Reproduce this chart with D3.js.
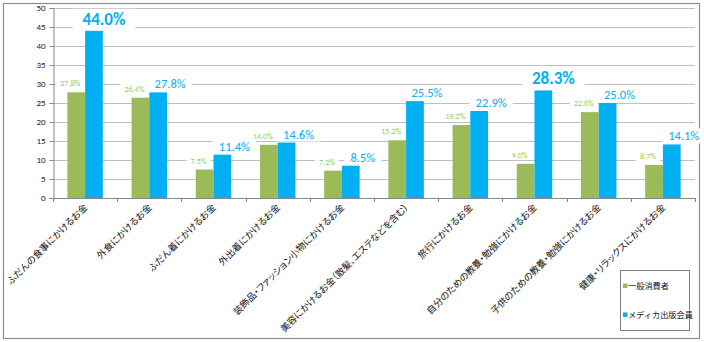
<!DOCTYPE html>
<html>
<head>
<meta charset="utf-8">
<script src="https://cdn.jsdelivr.net/npm/d3@7"></script>
<style>
  html, body { margin: 0; padding: 0; background: #fff; }
  svg { display: block; }
</style>
</head>
<body>
<svg id="chart" width="704" height="342"></svg>
<script>
// Spending categories (x axis)
const categories = [
  "ふだんの食事にかけるお金",
  "外食にかけるお金",
  "ふだん着にかけるお金",
  "外出着にかけるお金",
  "装飾品・ファッション小物にかけるお金",
  "美容にかけるお金（散髪、エステなどを含む）",
  "旅行にかけるお金",
  "自分のための教養・勉強にかけるお金",
  "子供のための教養・勉強にかけるお金",
  "健康・リラックスにかけるお金"
];
// Series names
const seriesNames = ["一般消費者", "メディカ出版会員"];
// Percentages per series
const generalValues = [27.8, 26.4, 7.5, 14.0, 7.2, 15.2, 19.2, 9.0, 22.6, 8.7];
const memberValues  = [44.0, 27.8, 11.4, 14.6, 8.5, 25.5, 22.9, 28.3, 25.0, 14.1];
// Member values shown with an emphasised label
const emphasised = [0, 7];
// Y axis ticks
const yTicks = [0, 5, 10, 15, 20, 25, 30, 35, 40, 45, 50];

const colors = ["#9bbb59", "#00b0f0"];
const labelColors = ["#92d050", "#00b0f0"];
const font = "'Noto Sans CJK JP', 'Noto Sans', sans-serif";
const numFont = "Calibri, 'Liberation Sans', 'Noto Sans', sans-serif";

const svg = d3.select("#chart");

// Outer frame
svg.append("rect")
  .attr("x", 3.5).attr("y", 3.5).attr("width", 696).attr("height", 335)
  .attr("fill", "#fff").attr("stroke", "#8c8c8c").attr("stroke-width", 1.2);

const plot = { left: 53, right: 695, top: 8, bottom: 198 };

const x = d3.scaleBand().domain(d3.range(categories.length))
  .range([plot.left, plot.right]).paddingInner(0).paddingOuter(0);
const inner = d3.scaleBand().domain([0, 1])
  .range([0, x.bandwidth()]).paddingInner(0).paddingOuter(0.81);
const y = d3.scaleLinear().domain([0, 50]).range([plot.bottom, plot.top]);

// Gridlines
svg.append("g").selectAll("line").data(yTicks.filter(d => d > 0)).join("line")
  .attr("x1", plot.left).attr("x2", plot.right)
  .attr("y1", d => Math.round(y(d)) + 0.5).attr("y2", d => Math.round(y(d)) + 0.5)
  .attr("stroke", "#bfbfbf").attr("stroke-width", 1);

// Bars
const series = [generalValues, memberValues];
const barG = svg.append("g");
series.forEach((vals, s) => {
  barG.selectAll(null).data(vals).join("rect")
    .attr("x", (d, i) => x(i) + inner(s))
    .attr("width", inner.bandwidth())
    .attr("y", d => y(d))
    .attr("height", d => y(0) - y(d))
    .attr("fill", colors[s]);
});

// Y axis
const yAxis = svg.append("g")
  .attr("transform", `translate(${plot.left + 0.5},0)`)
  .call(d3.axisLeft(y).tickValues(yTicks).tickSize(4).tickPadding(4).tickFormat(d3.format("d")));
yAxis.select(".domain").attr("stroke", "#868686");
yAxis.selectAll(".tick line").attr("stroke", "#868686");
yAxis.selectAll(".tick text").attr("font-family", numFont).attr("font-size", 9).attr("fill", "#222");

// X axis baseline with boundary ticks
const xAxisG = svg.append("g");
xAxisG.append("line")
  .attr("x1", plot.left).attr("x2", plot.right)
  .attr("y1", y(0) + 0.5).attr("y2", y(0) + 0.5).attr("stroke", "#868686");
xAxisG.selectAll(".bt").data(d3.range(categories.length + 1)).join("line")
  .attr("x1", i => Math.round(plot.left + i * x.step()) + 0.5)
  .attr("x2", i => Math.round(plot.left + i * x.step()) + 0.5)
  .attr("y1", y(0)).attr("y2", y(0) + 4).attr("stroke", "#868686");

// Rotated category labels
xAxisG.selectAll(".cat").data(categories).join("text")
  .attr("transform", (d, i) => `translate(${x(i) + x.bandwidth() / 2 + 3},${y(0) + 10}) rotate(-45)`)
  .attr("text-anchor", "end")
  .attr("font-family", font).attr("font-size", 9.4).attr("fill", "#111")
  .style("font-feature-settings", "'palt' 1")
  .text(d => d);

// Value labels with white backing that breaks the gridlines
const labG = svg.append("g");
function addLabel(cx, cy, text, size, weight, color, pad) {
  const g = labG.append("g");
  const t = g.append("text")
    .attr("x", cx).attr("y", cy)
    .attr("text-anchor", "middle")
    .attr("font-family", numFont).attr("font-size", size).attr("font-weight", weight)
    .attr("fill", color).text(text);
  const bb = t.node().getBBox();
  g.insert("rect", "text")
    .attr("x", bb.x - pad).attr("y", bb.y)
    .attr("width", bb.width + pad * 2).attr("height", bb.height)
    .attr("fill", "#fff");
}
generalValues.forEach((v, i) => {
  const cx = x(i) + inner(0) + inner.bandwidth() / 2 - 6;
  addLabel(cx, y(v) - 6, v.toFixed(1) + "%", 8, "normal", labelColors[0], 4);
});
memberValues.forEach((v, i) => {
  const big = emphasised.includes(i);
  const cx = x(i) + inner(1) + inner.bandwidth() / 2 + (big ? 10 : 12);
  addLabel(cx, y(v) - (big ? 6 : 4), v.toFixed(1) + "%", big ? 17 : 12.5, big ? "bold" : "normal", labelColors[1], big ? 10 : 6);
});

// Legend
const lg = svg.append("g");
lg.append("rect")
  .attr("x", 620.5).attr("y", 270.5).attr("width", 69).attr("height", 60)
  .attr("fill", "#fff").attr("stroke", "#7f7f7f");
seriesNames.forEach((name, s) => {
  const ly = 286 + s * 29;
  lg.append("rect").attr("x", 623).attr("y", ly - 2.5).attr("width", 4.5).attr("height", 4.5).attr("fill", colors[s]);
  lg.append("text").attr("x", 628).attr("y", ly + 3)
    .attr("font-family", font).attr("font-size", 8.2).attr("fill", "#111").text(name);
});
</script>
</body>
</html>
